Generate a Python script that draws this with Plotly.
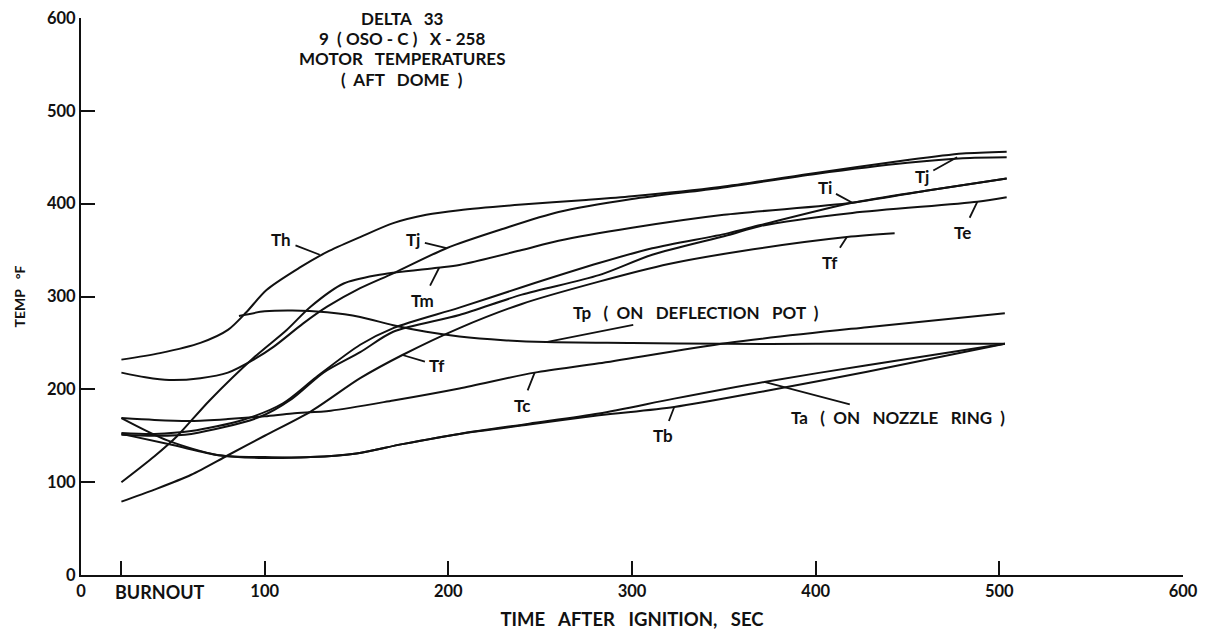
import plotly.graph_objects as go

# ---- data (time after ignition, sec ; temperature, deg F) ----
th_x = [22, 43, 65, 80, 90, 101, 119, 134, 152, 170, 188, 206, 240, 275, 300, 348, 400, 450, 480, 504]
th_y = [232, 239, 250, 264, 283, 307, 331, 348, 364, 379, 388, 393, 399, 404, 408, 418, 433, 447, 454, 456]

tj_x = [22, 35, 48, 65, 80, 94, 105, 121, 134, 152, 170, 199, 230, 260, 300, 348, 400, 450, 480, 504]
tj_y = [218, 213, 210, 212, 218, 232, 246, 271, 289, 309, 325, 352, 373, 391, 405, 417, 432, 444, 449, 450]

tm_x = [22, 40, 52, 70, 94, 112, 125, 143, 161, 194, 206, 240, 260, 300, 350, 420, 460, 504]
tm_y = [100, 128, 149, 188, 234, 264, 289, 314, 323, 331, 334, 350, 360, 374, 388, 401, 414, 427]

ti_x = [22, 40, 60, 88, 110, 128, 152, 170, 206, 240, 282, 311, 352, 370, 420, 460, 504]
ti_y = [153, 152, 155, 167, 185, 213, 248, 266, 288, 310, 336, 352, 368, 377, 401, 414, 427]

te_x = [22, 40, 60, 97, 115, 132, 152, 170, 206, 240, 282, 311, 352, 370, 420, 488, 504]
te_y = [151, 150, 152, 170, 190, 218, 240, 262, 280, 302, 323, 345, 366, 376, 390, 402, 407]

tf_x = [22, 40, 60, 80, 100, 125, 152, 175, 206, 240, 282, 320, 360, 417, 443]
tf_y = [79, 92, 108, 129, 150, 176, 212, 237, 266, 292, 316, 335, 349, 364, 368]

tp_x = [86, 100, 115, 134, 152, 170, 188, 206, 230, 253, 300, 350, 400, 450, 503]
tp_y = [279, 284, 285, 283, 278, 269, 262, 257, 253, 251, 250, 249, 249, 249, 249]

tc_x = [22, 40, 60, 80, 100, 115, 136, 170, 206, 247, 282, 352, 428, 503]
tc_y = [169, 167, 166, 168, 171, 174, 177, 188, 201, 218, 228, 250, 267, 282]

ta_x = [22, 47, 75, 100, 125, 150, 175, 206, 244, 282, 323, 372, 428, 503]
ta_y = [169, 145, 129, 127, 127, 131, 141, 152, 163, 174, 190, 208, 226, 249]

tb_x = [22, 50, 75, 100, 125, 150, 175, 206, 244, 282, 323, 372, 428, 503]
tb_y = [152, 140, 129, 126, 127, 131, 141, 152, 162, 172, 181, 198, 219, 249]

x_tickvals = [0, 22, 100, 200, 300, 400, 500, 600]
x_ticktext = ["0", "", "100", "200", "300", "400", "500", "600"]
y_tickvals = [0, 100, 200, 300, 400, 500, 600]

title_lines = ["DELTA   33", "9  ( OSO - C )   X - 258", "MOTOR   TEMPERATURES", "(  AFT   DOME  )"]

FONT = "Lato"
INK = "#111111"

fig = go.Figure()
for xs, ys in [(th_x, th_y), (tj_x, tj_y), (tm_x, tm_y), (ti_x, ti_y), (te_x, te_y),
               (tf_x, tf_y), (tp_x, tp_y), (tc_x, tc_y), (ta_x, ta_y), (tb_x, tb_y)]:
    fig.add_trace(go.Scatter(x=xs, y=ys, mode="lines",
                             line=dict(color=INK, width=2, shape="spline", smoothing=0.8),
                             showlegend=False, hoverinfo="skip"))

# curve labels: (text, text_x, text_y, point_x, point_y)
labels = [
    ("Th", 109, 361, 130, 345),
    ("Tj", 181, 361, 199, 352),
    ("Tm", 186, 296, 195, 331),
    ("Tf", 194, 226, 175, 237),
    ("Tp   (  ON   DEFLECTION   POT  )", 335, 283, 254, 251),
    ("Tc", 240, 183, 247, 218),
    ("Tb", 317, 150, 323, 181),
    ("Ta   (  ON   NOZZLE   RING  )", 445, 170, 372, 208),
    ("Ti", 405, 417, 420, 401),
    ("Tj", 458, 429, 477, 450),
    ("Te", 480, 369, 488, 402),
    ("Tf", 408, 337, 417, 364),
]
for txt, tx, ty, px, py in labels:
    fig.add_annotation(x=px, y=py, ax=tx, ay=ty, xref="x", yref="y", axref="x", ayref="y",
                       text=txt, showarrow=True, arrowhead=0, arrowwidth=1.8,
                       arrowcolor=INK, standoff=0, startstandoff=3,
                       font=dict(family=FONT, size=17, color=INK, weight="bold"))

fig.add_annotation(x=17.5, y=0, xref="x", yref="paper", xanchor="left", yanchor="top",
                   yshift=-4, text="BURNOUT", showarrow=False,
                   font=dict(family=FONT, size=18, color=INK, weight="bold"))

for i, line in enumerate(title_lines):
    fig.add_annotation(x=175, y=1.0 - i * 0.0368, xref="x", yref="paper",
                       xanchor="center", yanchor="middle", text=line, showarrow=False,
                       font=dict(family=FONT, size=17, color=INK, weight="bold"))

fig.update_layout(
    width=1209, height=637,
    margin=dict(l=81, r=26, t=18, b=62),
    plot_bgcolor="white", paper_bgcolor="white",
    font=dict(family=FONT, size=16, color=INK),
    xaxis=dict(range=[0, 600], tickmode="array", tickvals=x_tickvals, ticktext=x_ticktext,
               ticks="inside", ticklen=14, tickwidth=1.5, tickcolor=INK, automargin=False,
               showline=True, linecolor=INK, linewidth=2, showgrid=False, zeroline=False,
               tickfont=dict(family=FONT, size=16.5, color=INK, weight="bold"),
               title=dict(text="TIME   AFTER   IGNITION,   SEC", standoff=13,
                          font=dict(family=FONT, size=18.5, color=INK, weight="bold"))),
    yaxis=dict(range=[0, 600], tickmode="array", tickvals=y_tickvals,
               ticks="inside", ticklen=14, tickwidth=1.5, tickcolor=INK, automargin=False,
               showline=True, linecolor=INK, linewidth=2, showgrid=False, zeroline=False,
               tickfont=dict(family=FONT, size=16.5, color=INK, weight="bold"),
               title=dict(text="TEMP   °F", standoff=18,
                          font=dict(family=FONT, size=14, color=INK, weight="bold"))),
)

fig.write_html("out.html", config={"displayModeBar": False},
               post_script="document.body.style.margin='0px';")
